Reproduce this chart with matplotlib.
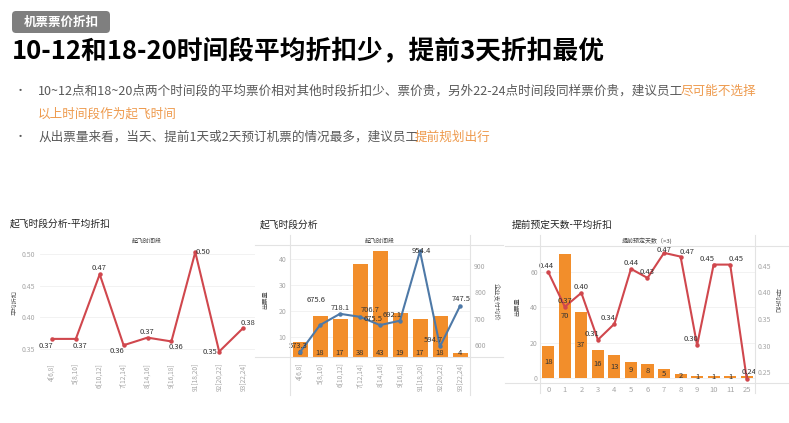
import matplotlib
matplotlib.use('Agg')
import matplotlib.pyplot as plt
from matplotlib.patches import FancyBboxPatch
from matplotlib.lines import Line2D
from matplotlib.transforms import blended_transform_factory

plt.rcParams['font.family'] = ['Noto Sans CJK SC', 'DejaVu Sans']

W, H = 789, 423

# ---------------- data ----------------
time_slots = ['4[6,8]', '5[8,10]', '6[10,12]', '7[12,14]', '8[14,16]',
              '9[16,18]', '91[18,20]', '92[20,22]', '93[22,24]']
slot_discount = [0.366, 0.366, 0.468, 0.356, 0.368, 0.362, 0.503, 0.346, 0.383]
slot_tickets = [8, 18, 17, 38, 43, 19, 17, 18, 4]
slot_avg_price = [573.3, 675.6, 718.1, 706.7, 675.5, 692.1, 954.4, 594.7, 747.5]

advance_days = ['0', '1', '2', '3', '4', '5', '6', '7', '8', '9', '10', '11', '25']
advance_tickets = [18, 70, 37, 16, 13, 9, 8, 5, 2, 1, 1, 1, 1]
advance_discount = [0.438, 0.373, 0.399, 0.311, 0.341, 0.444, 0.427, 0.474,
                    0.467, 0.301, 0.452, 0.452, 0.238]

# label offsets (pixels, x right / y down) - styling only
off1 = [(-6, 7), (4, 7), (-1, -6), (-7, 6), (-1, -6), (5, 6), (8, 0), (-9, 0), (5, -5)]
off2 = [(-2, -6), (-4, -25), (0, -6), (10, -7), (-7, -6), (-8, -6), (1, 0), (-7, -6), (1, -7)]
off3 = [(-2, -6), (0, -6), (0, -6), (-6, -6), (-6, -6), (0, -6), (0, -6), (0, -3),
        (6, -5), (-6, -6), (-7, -6), (6, -6), (2, -7)]

RED = '#D0474D'
BLUE = '#4E79A7'
ORANGE = '#F28E2B'
TICK = '#A6A6A6'
LAB = '#333333'
GRIDC = '#F0F0F0'
LINEC = '#E3E3E3'

fig = plt.figure(figsize=(W / 100, H / 100), dpi=100)
fig.patch.set_facecolor('white')


def rect(l, t, r, b):
    return [l / W, 1 - b / H, (r - l) / W, (b - t) / H]


def ftext(x, y, s, **kw):
    return fig.text(x / W, 1 - y / H, s, **kw)


def hline(y, x0, x1):
    fig.add_artist(Line2D([x0 / W, x1 / W], [1 - y / H] * 2, transform=fig.transFigure,
                          color=LINEC, lw=0.8))


def vline(x, y0, y1):
    fig.add_artist(Line2D([x / W] * 2, [1 - y0 / H, 1 - y1 / H], transform=fig.transFigure,
                          color=LINEC, lw=0.8))


def clean(ax):
    for s in ax.spines.values():
        s.set_visible(False)
    ax.tick_params(length=0)
    ax.patch.set_alpha(0)


# ---------------- header ----------------
box = FancyBboxPatch((12 / 100, (H - 33) / 100), 98 / 100, 22 / 100,
                     boxstyle='round,pad=0,rounding_size=0.04',
                     transform=fig.dpi_scale_trans, facecolor='#7F7F7F', edgecolor='none')
fig.add_artist(box)
ftext(61, 22, '机票票价折扣', color='white', fontsize=9, fontweight='bold',
      ha='center', va='center')
ftext(12, 52, '10-12和18-20时间段平均折扣少，提前3天折扣最优', color='black',
      fontsize=18.5, fontweight='bold', ha='left', va='center')

GRAYTXT = '#595959'
HIGH = '#EE9A4D'
renderer = fig.canvas.get_renderer()


def rich_line(x, y, parts, fs=9.05):
    for s, c in parts:
        t = ftext(x, y, s, color=c, fontsize=fs, ha='left', va='center')
        bb = t.get_window_extent(renderer=renderer)
        x += bb.width - 3


ftext(20, 91, '•', color=GRAYTXT, fontsize=8, ha='center', va='center')
rich_line(38, 91, [('10~12点和18~20点两个时间段的平均票价相对其他时段折扣少、票价贵，另外22-24点时间段同样票价贵，建议员工', GRAYTXT),
                   ('尽可能不选择', HIGH)])
rich_line(38, 114, [('以上时间段作为起飞时间', HIGH)])
ftext(20, 137, '•', color=GRAYTXT, fontsize=8, ha='center', va='center')
rich_line(38, 137, [('从出票量来看，当天、提前1天或2天预订机票的情况最多，建议员工', GRAYTXT),
                    ('提前规划出行', HIGH)])

# ---------------- chart 1 ----------------
ftext(10, 224, '起飞时段分析-平均折扣', color='#222222', fontsize=7, ha='left', va='center')
ftext(147, 241, '起飞时间段', color='#444444', fontsize=4.3, ha='center', va='center')
ftext(15, 302, '平均折扣', color='#555555', fontsize=4.5, ha='center', va='center', rotation=90)

ax1 = fig.add_axes(rect(40, 248, 255, 356))
clean(ax1)
x1 = list(range(len(time_slots)))
ax1.plot(x1, slot_discount, color=RED, lw=1.5, marker='o', ms=2.2, zorder=3)
ax1.set_xlim(-0.5, len(time_slots) - 0.5)
ax1.set_ylim(0.339, 0.5095)
ax1.set_yticks([0.35, 0.40, 0.45, 0.50])
ax1.set_yticklabels(['0.35', '0.40', '0.45', '0.50'])
ax1.set_xticks(x1)
ax1.set_xticklabels(time_slots, rotation=90)
ax1.tick_params(axis='y', labelsize=5, labelcolor=TICK, pad=3.5)
ax1.tick_params(axis='x', labelsize=4.8, labelcolor=TICK, pad=5)
ax1.yaxis.grid(True, color=GRIDC, lw=0.6)
ax1.set_axisbelow(True)
for i, v in enumerate(slot_discount):
    dx, dy = off1[i]
    ax1.annotate(f'{v:.2f}', (i, v), xytext=(dx, -dy), textcoords='offset pixels',
                 ha='center', va='center', fontsize=5.5, color=LAB, annotation_clip=False)

# ---------------- chart 2 ----------------
ftext(260, 225, '起飞时段分析', color='#222222', fontsize=7, ha='left', va='center')
ftext(380, 241, '起飞时间段', color='#444444', fontsize=4.3, ha='center', va='center')
ftext(265, 300, '出票量', color='#555555', fontsize=4.5, ha='center', va='center', rotation=90)
ftext(495, 302, '企业支付均价', color='#555555', fontsize=4.5, ha='center', va='center', rotation=-90)
hline(245, 255, 503)
hline(357, 255, 503)
vline(290, 235, 395)
vline(470, 235, 395)

ax2 = fig.add_axes(rect(290, 245, 470, 357))
clean(ax2)
x2 = list(range(len(time_slots)))
ax2.bar(x2, slot_tickets, width=0.75, color=ORANGE, zorder=2)
ax2.set_xlim(-0.5, len(time_slots) - 0.5)
ax2.set_ylim(2.3, 45.2)
ax2.set_yticks([10, 20, 30, 40])
ax2.set_xticks(x2)
ax2.set_xticklabels(time_slots, rotation=90)
ax2.tick_params(axis='y', labelsize=5, labelcolor=TICK, pad=2.5)
ax2.tick_params(axis='x', labelsize=4.8, labelcolor=TICK, pad=4)
ax2.yaxis.grid(True, color=GRIDC, lw=0.6)
ax2.set_axisbelow(True)
tr2 = blended_transform_factory(ax2.transData, ax2.transAxes)
for i, v in enumerate(slot_tickets):
    ax2.text(i, 0.04, str(v), transform=tr2, ha='center', va='center', fontsize=5.5, color=LAB)

ax2b = ax2.twinx()
clean(ax2b)
ax2b.plot(x2, slot_avg_price, color=BLUE, lw=1.5, marker='o', ms=2.2, zorder=3)
ax2b.set_ylim(555, 978)
ax2b.set_yticks([600, 700, 800, 900])
ax2b.tick_params(axis='y', labelsize=5, labelcolor=TICK, pad=3)
for i, v in enumerate(slot_avg_price):
    dx, dy = off2[i]
    ax2b.annotate(f'{v:.1f}', (i, v), xytext=(dx, -dy), textcoords='offset pixels',
                  ha='center', va='center', fontsize=5.5, color=LAB, annotation_clip=False)

# ---------------- chart 3 ----------------
ftext(512, 225, '提前预定天数-平均折扣', color='#222222', fontsize=7, ha='left', va='center')
ftext(647, 241, '提前预定天数（>3)', color='#444444', fontsize=4.3, ha='center', va='center')
ftext(517, 307, '出票量', color='#555555', fontsize=4.5, ha='center', va='center', rotation=90)
ftext(777, 300, '平均折扣', color='#555555', fontsize=4.5, ha='center', va='center', rotation=-90)
hline(246, 505, 789)
hline(383, 505, 789)
vline(540, 235, 393)
vline(755, 235, 393)

ax3 = fig.add_axes(rect(540, 247, 755, 383))
clean(ax3)
x3 = list(range(len(advance_days)))
ax3.bar(x3, advance_tickets, width=0.73, color=ORANGE, zorder=2)
ax3.set_xlim(-0.5, len(advance_days) - 0.5)
ax3.set_ylim(-2.8, 73.9)
ax3.set_yticks([0, 20, 40, 60])
ax3.set_xticks(x3)
ax3.set_xticklabels(advance_days)
ax3.tick_params(axis='y', labelsize=5, labelcolor=TICK, pad=1.5)
ax3.tick_params(axis='x', labelsize=5.5, labelcolor=TICK, pad=2)
ax3.yaxis.grid(True, color=GRIDC, lw=0.6)
ax3.set_axisbelow(True)
for i, v in enumerate(advance_tickets):
    ax3.text(i, v / 2, str(v), ha='center', va='center', fontsize=5.5, color=LAB, zorder=4)

ax3b = ax3.twinx()
clean(ax3b)
ax3b.plot(x3, advance_discount, color=RED, lw=1.5, marker='o', ms=2.2, zorder=3)
ax3b.set_ylim(0.230, 0.485)
ax3b.set_yticks([0.25, 0.30, 0.35, 0.40, 0.45])
ax3b.set_yticklabels(['0.25', '0.30', '0.35', '0.40', '0.45'])
ax3b.tick_params(axis='y', labelsize=5, labelcolor=TICK, pad=2)
for i, v in enumerate(advance_discount):
    dx, dy = off3[i]
    ax3b.annotate(f'{v:.2f}', (i, v), xytext=(dx, -dy), textcoords='offset pixels',
                  ha='center', va='center', fontsize=5.5, color=LAB, annotation_clip=False)

fig.savefig('out.png', dpi=100)
